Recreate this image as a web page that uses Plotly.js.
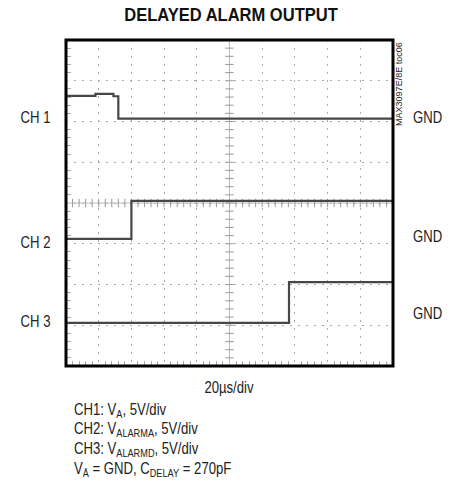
<!DOCTYPE html>
<html>
<head>
<meta charset="utf-8">
<script src="https://cdn.plot.ly/plotly-3.0.1.min.js"></script>
<style>
  html, body { margin: 0; padding: 0; background: #fff; }
  #chart { width: 456px; height: 488px; }
</style>
</head>
<body>
<div id="chart"></div>
<script>
// Scope screen: 10 horizontal divisions (20us/div), 8 vertical divisions
const ch1X = [0, 0.9, 1.45, 1.6, 10];
const ch1Y = [6.63, 6.68, 6.62, 6.07, 6.07];
const ch2X = [0, 2.0, 10];
const ch2Y = [3.12, 4.05, 4.05];
const ch3X = [0, 6.82, 10];
const ch3Y = [1.06, 2.06, 2.06];

const channelLabels = ["CH 1", "CH 2", "CH 3"];
const channelLabelY = [6.11, 3.04, 1.08];
const gndLabelY = [6.11, 3.17, 1.3];

const captionLines = [
  "CH1: V<sub>A</sub>, 5V/div",
  "CH2: V<sub>ALARMA</sub>, 5V/div",
  "CH3: V<sub>ALARMD</sub>, 5V/div",
  "V<sub>Ā</sub> = GND, C<sub>DELAY</sub> = 270pF"
];

const FONT = "'Liberation Sans Narrow', 'Arial Narrow', 'Liberation Sans', Arial, sans-serif";
const traceColor = "#474747";
const NARROW = 0.82;   // horizontal condensing applied to the label text

// graticule centre-line tick marks, every 0.2 div
const hTickX = [], hTickY = [], vTickX = [], vTickY = [];
for (let i = 0; i <= 50; i++) { hTickX.push(i * 0.2); hTickY.push(4); }
for (let i = 0; i <= 40; i++) { vTickX.push(5); vTickY.push(i * 0.2); }

const traces = [
  { x: [0, 10], y: [4, 4], mode: "lines", line: { color: "#bbb", width: 1 }, hoverinfo: "skip" },
  { x: [5, 5], y: [0, 8], mode: "lines", line: { color: "#bbb", width: 1 }, hoverinfo: "skip" },
  { x: hTickX, y: hTickY, mode: "markers", marker: { symbol: "line-ns", size: 6, line: { color: "#999", width: 1 } }, hoverinfo: "skip" },
  { x: vTickX, y: vTickY, mode: "markers", marker: { symbol: "line-ew", size: 6, line: { color: "#999", width: 1 } }, hoverinfo: "skip" },
  { x: ch1X, y: ch1Y, mode: "lines", line: { shape: "hv", color: traceColor, width: 2.2 } },
  { x: ch2X, y: ch2Y, mode: "lines", line: { shape: "hv", color: traceColor, width: 2.2 } },
  { x: ch3X, y: ch3Y, mode: "lines", line: { shape: "hv", color: traceColor, width: 2.2 } }
];

// annotations plus the anchor each one is condensed around
const annotations = [];
const squeezeAnchor = [];
channelLabels.forEach((t, i) => {
  annotations.push({ text: t, xref: "paper", yref: "y", x: -0.0398, y: channelLabelY[i],
    xanchor: "right", yanchor: "middle", showarrow: false, font: { family: FONT, size: 16, color: "#222" } });
  squeezeAnchor.push("right");
  annotations.push({ text: "GND", xref: "paper", yref: "y", x: 1.055, y: gndLabelY[i],
    xanchor: "left", yanchor: "middle", showarrow: false, font: { family: FONT, size: 16, color: "#222" } });
  squeezeAnchor.push("left");
});
annotations.push({ text: "MAX3097E/8E toc06", xref: "paper", yref: "paper", x: 1.018, y: 0.865,
  textangle: -90, xanchor: "center", yanchor: "middle", showarrow: false,
  font: { family: FONT, size: 9, color: "#222" } });
squeezeAnchor.push(null);
annotations.push({ text: "20µs/div", xref: "paper", yref: "paper", x: 0.497, y: -0.066,
  xanchor: "center", yanchor: "middle", showarrow: false, font: { family: FONT, size: 16, color: "#222" } });
squeezeAnchor.push("center");
captionLines.forEach((t, i) => {
  annotations.push({ text: t, xref: "paper", yref: "paper", x: 0.018, y: -0.135 - i * 0.061,
    xanchor: "left", yanchor: "middle", showarrow: false, align: "left",
    font: { family: FONT, size: 16, color: "#222" } });
  squeezeAnchor.push("left");
});

const axisCommon = {
  showgrid: true, gridcolor: "#aaa", griddash: "2px,6px", gridwidth: 1,
  zeroline: false, showticklabels: false, ticks: "", showline: false,
  fixedrange: true
};

const layout = {
  width: 456, height: 488,
  margin: { l: 66, r: 63, t: 40, b: 122 },
  paper_bgcolor: "#fff", plot_bgcolor: "#fff",
  showlegend: false,
  title: { text: "<b>DELAYED ALARM OUTPUT</b>", x: 0.5066, xanchor: "center", y: 0.97, yanchor: "middle",
    font: { family: FONT, size: 19, color: "#111" } },
  xaxis: Object.assign({}, axisCommon, { range: [0, 10], dtick: 1, tick0: 0,
    minor: { dtick: 0.2, ticks: "inside", ticklen: 5, tickcolor: "#aaa", showgrid: false } }),
  yaxis: Object.assign({}, axisCommon, { range: [0, 8], dtick: 1, tick0: 0,
    minor: { dtick: 0.2, ticks: "inside", ticklen: 5, tickcolor: "#aaa", showgrid: false } }),
  shapes: [
    { type: "rect", xref: "paper", yref: "paper", x0: 0, x1: 1, y0: 0, y1: 1,
      line: { color: "#000", width: 3 } }
  ],
  annotations: annotations
};

// condense a text element horizontally, keeping the given edge fixed
function condense(el, anchor, s) {
  const bb = el.getBBox();
  let ax = bb.x + bb.width / 2;
  if (anchor === "left") ax = bb.x;
  if (anchor === "right") ax = bb.x + bb.width;
  const prev = el.getAttribute("transform") || "";
  el.setAttribute("transform", prev + " translate(" + ax + ",0) scale(" + s + ",1) translate(" + (-ax) + ",0)");
}

Plotly.newPlot("chart", traces, layout, { staticPlot: true, displayModeBar: false }).then(gd => {
  gd.querySelectorAll("g.annotation").forEach(g => {
    const idx = +g.getAttribute("data-index");
    const anchor = squeezeAnchor[idx];
    const t = g.querySelector("text.annotation-text");
    if (anchor && t) condense(t, anchor, NARROW);
  });
  const title = gd.querySelector("text.gtitle");
  if (title) condense(title, "center", 0.87);
});
</script>
</body>
</html>
